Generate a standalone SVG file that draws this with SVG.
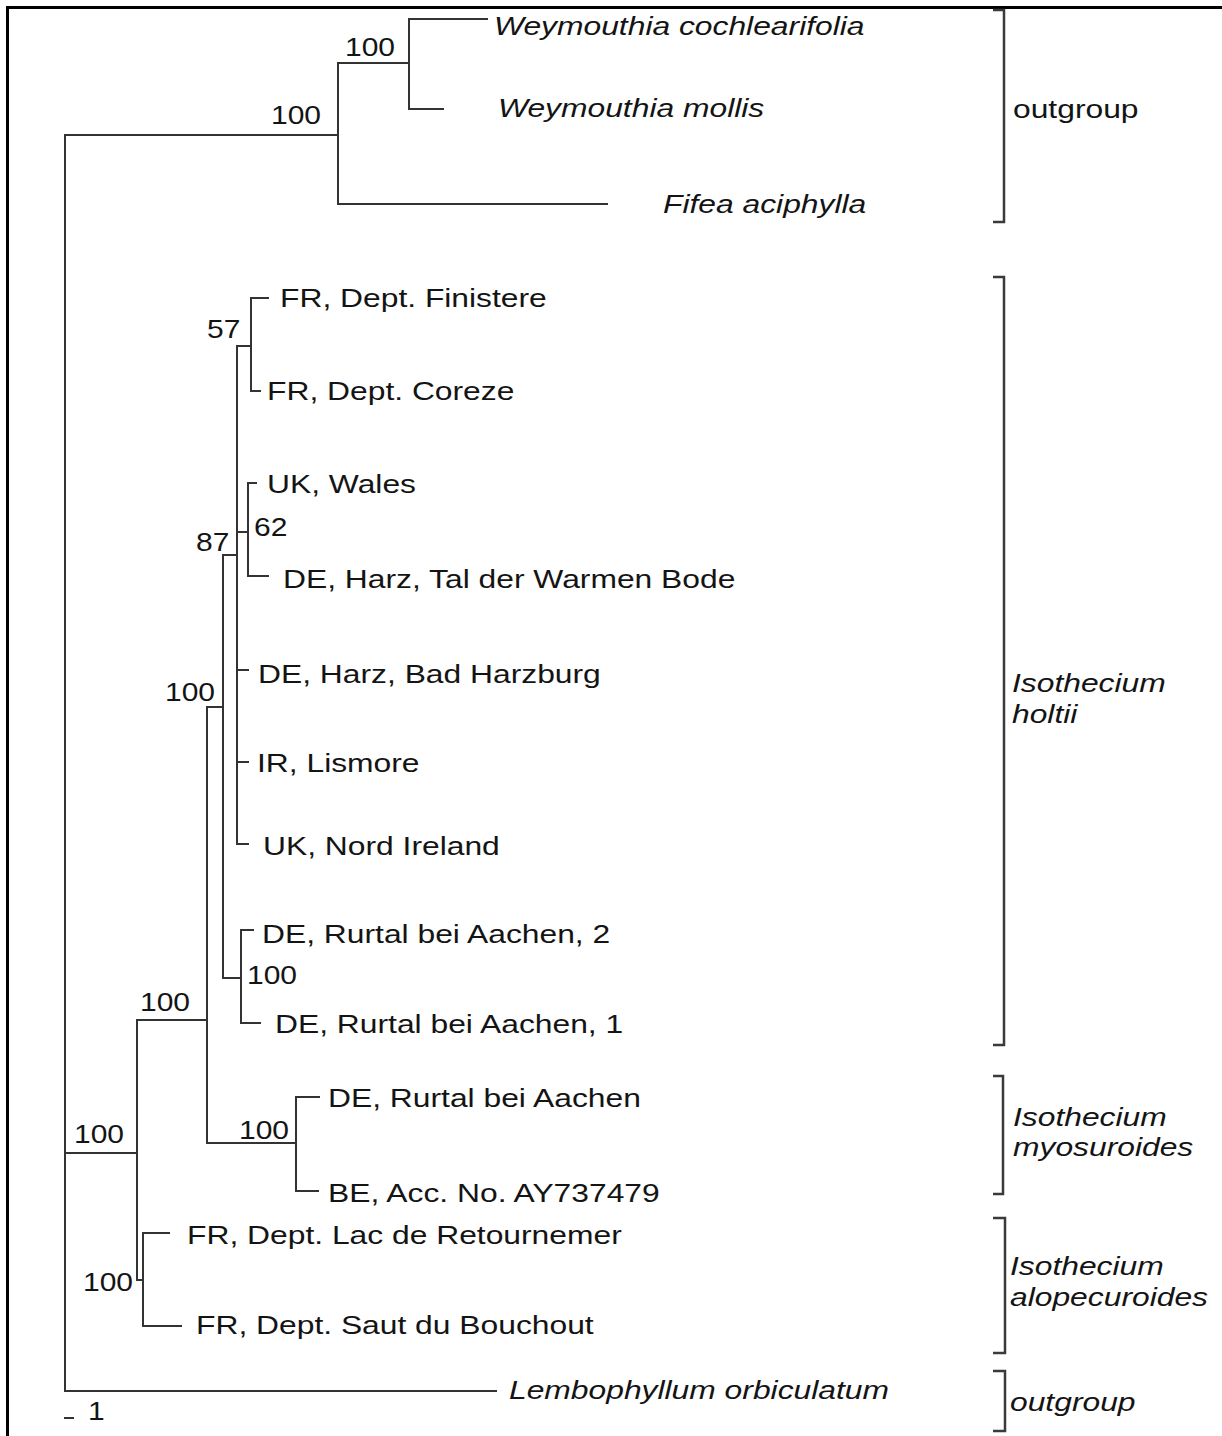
<svg xmlns="http://www.w3.org/2000/svg" width="1222" height="1436" viewBox="0 0 1222 1436">
<style>
.bg{fill:#ffffff}
.frame{fill:none;stroke:#000;stroke-width:3}
.br{fill:none;stroke:#333;stroke-width:2;stroke-linecap:square}
.bk{fill:none;stroke:#3a3a3a;stroke-width:2.5}
.t{font-family:"Liberation Sans",Arial,sans-serif;font-size:26.5px;fill:#141414}
.i{font-style:italic}
.n{font-family:"Liberation Sans",Arial,sans-serif;font-size:25px;fill:#141414}
</style>
<rect class="bg" x="0" y="0" width="1222" height="1436"/>
<path class="frame" d="M7.5,1436 V7.5 H1222"/>
<g id="connectors">
<path class="br" d="M338,135 H65 V1391 H496"/>
<path class="br" d="M65,1153 H137"/>
<path class="br" d="M409,63 H338 V204 H607"/>
<path class="br" d="M487,19 H409 V109 H443"/>
<path class="br" d="M207,1020 H137 V1280 H143"/>
<path class="br" d="M169,1233 H143 V1326 H181"/>
<path class="br" d="M223,707 H207 V1143 H296"/>
<path class="br" d="M319,1097 H296 V1191 H318"/>
<path class="br" d="M237,555 H223 V978 H241"/>
<path class="br" d="M253,930 H241 V1023 H260"/>
<path class="br" d="M251,346 H237 V844 H248"/>
<path class="br" d="M237,670 H248 M237,762 H248 M237,532 H248"/>
<path class="br" d="M256,483 H248 V576 H268"/>
<path class="br" d="M268,298 H251 V391 H260"/>
</g>
<g id="scale-bar">
<path class="br" d="M65,1418 H73"/>
<text class="n" transform="matrix(1.2 0 0 1 88 1420)">1</text>
</g>
<g id="taxon-weymouthia-cochlearifolia"><text class="t i" transform="matrix(1.2 0 0 1 494 35)">Weymouthia cochlearifolia</text></g>
<g id="taxon-weymouthia-mollis"><text class="t i" transform="matrix(1.2 0 0 1 498 117)">Weymouthia mollis</text></g>
<g id="taxon-fifea"><text class="t i" transform="matrix(1.2 0 0 1 663 213)">Fifea aciphylla</text></g>
<g id="taxon-finistere"><text class="t" transform="matrix(1.2 0 0 1 280 307)">FR, Dept. Finistere</text></g>
<g id="taxon-coreze"><text class="t" transform="matrix(1.2 0 0 1 267 400)">FR, Dept. Coreze</text></g>
<g id="taxon-wales"><text class="t" transform="matrix(1.2 0 0 1 267 493)">UK, Wales</text></g>
<g id="taxon-warmen-bode"><text class="t" transform="matrix(1.2 0 0 1 283 588)">DE, Harz, Tal der Warmen Bode</text></g>
<g id="taxon-bad-harzburg"><text class="t" transform="matrix(1.2 0 0 1 258 683)">DE, Harz, Bad Harzburg</text></g>
<g id="taxon-lismore"><text class="t" transform="matrix(1.2 0 0 1 257 772)">IR, Lismore</text></g>
<g id="taxon-nord-ireland"><text class="t" transform="matrix(1.2 0 0 1 263 855)">UK, Nord Ireland</text></g>
<g id="taxon-rurtal-2"><text class="t" transform="matrix(1.2 0 0 1 262 943)">DE, Rurtal bei Aachen, 2</text></g>
<g id="taxon-rurtal-1"><text class="t" transform="matrix(1.2 0 0 1 275 1033)">DE, Rurtal bei Aachen, 1</text></g>
<g id="taxon-rurtal-myo"><text class="t" transform="matrix(1.2 0 0 1 328 1107)">DE, Rurtal bei Aachen</text></g>
<g id="taxon-be"><text class="t" transform="matrix(1.2 0 0 1 328 1202)">BE, Acc. No. AY737479</text></g>
<g id="taxon-retournemer"><text class="t" transform="matrix(1.2 0 0 1 187 1244)">FR, Dept. Lac de Retournemer</text></g>
<g id="taxon-bouchout"><text class="t" transform="matrix(1.2 0 0 1 196 1334)">FR, Dept. Saut du Bouchout</text></g>
<g id="taxon-lembophyllum"><text class="t i" transform="matrix(1.2 0 0 1 509 1399)">Lembophyllum orbiculatum</text></g>
<g id="support-values">
<text class="n" transform="matrix(1.2 0 0 1 345 56)">100</text>
<text class="n" transform="matrix(1.2 0 0 1 271 124)">100</text>
<text class="n" transform="matrix(1.2 0 0 1 207 338)">57</text>
<text class="n" transform="matrix(1.2 0 0 1 254 536)">62</text>
<text class="n" transform="matrix(1.2 0 0 1 196 551)">87</text>
<text class="n" transform="matrix(1.2 0 0 1 165 701)">100</text>
<text class="n" transform="matrix(1.2 0 0 1 247 984)">100</text>
<text class="n" transform="matrix(1.2 0 0 1 140 1011)">100</text>
<text class="n" transform="matrix(1.2 0 0 1 74 1143)">100</text>
<text class="n" transform="matrix(1.2 0 0 1 239 1139)">100</text>
<text class="n" transform="matrix(1.2 0 0 1 83 1291)">100</text>
</g>
<g id="group-outgroup-top">
<path class="bk" d="M993,10 H1004 V222 H993"/>
<text class="t" transform="matrix(1.2 0 0 1 1013 118)">outgroup</text>
</g>
<g id="group-holtii">
<path class="bk" d="M993,277 H1004 V1045 H993"/>
<text class="t i" transform="matrix(1.2 0 0 1 1012 692)">Isothecium<tspan x="0" dy="31">holtii</tspan></text>
</g>
<g id="group-myosuroides">
<path class="bk" d="M993,1076 H1003 V1194 H993"/>
<text class="t i" transform="matrix(1.2 0 0 1 1013 1126)">Isothecium<tspan x="0" dy="30">myosuroides</tspan></text>
</g>
<g id="group-alopecuroides">
<path class="bk" d="M993,1218 H1005 V1353 H993"/>
<text class="t i" transform="matrix(1.2 0 0 1 1010 1275)">Isothecium<tspan x="0" dy="31">alopecuroides</tspan></text>
</g>
<g id="group-outgroup-bottom">
<path class="bk" d="M993,1371 H1005 V1431 H993"/>
<text class="t i" transform="matrix(1.2 0 0 1 1010 1411)">outgroup</text>
</g>
</svg>
